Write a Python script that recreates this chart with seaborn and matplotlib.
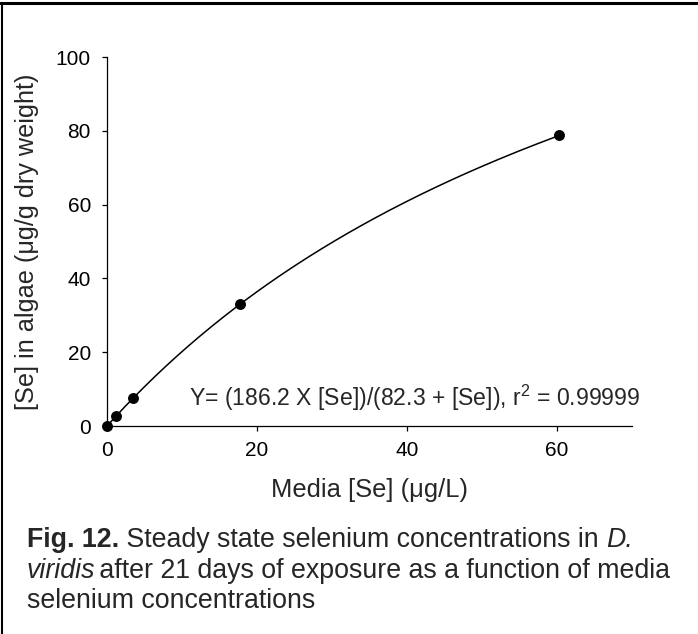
import numpy as np
import pandas as pd
import matplotlib
matplotlib.use("Agg")
import matplotlib.pyplot as plt
from matplotlib.lines import Line2D
import seaborn as sns

# measured points
media_se = [0.0, 1.2, 3.5, 17.8, 60.3]
algae_se = [0.0, 2.7, 7.6, 33.2, 78.8]

# fitted hyperbola parameters (as printed on the chart)
VMAX = 186.2
KM = 82.3
R2 = "0.99999"

x_ticks = [0, 20, 40, 60]
y_ticks = [0, 20, 40, 60, 80, 100]

sns.set_style("ticks")
plt.rcParams["font.family"] = ["Liberation Sans", "DejaVu Sans"]
plt.rcParams["mathtext.fontset"] = "custom"
plt.rcParams["mathtext.rm"] = "Liberation Sans"
plt.rcParams["mathtext.it"] = "Liberation Sans:italic"
plt.rcParams["mathtext.bf"] = "Liberation Sans:bold"

df = pd.DataFrame({"media": media_se, "algae": algae_se})
xs = np.linspace(0, max(media_se), 200)
fit = pd.DataFrame({"media": xs, "algae": VMAX * xs / (KM + xs)})

fig = plt.figure(figsize=(6.98, 6.34), dpi=100)
ax = fig.add_axes([0.1533, 0.328, 0.752, 0.582])

sns.lineplot(x="media", y="algae", data=fit, color="black", linewidth=1.1, ax=ax)
sns.scatterplot(x="media", y="algae", data=df, color="black", s=62,
                edgecolor="black", linewidth=0, zorder=5, clip_on=False, ax=ax)

ax.set_xlim(0, 70)
ax.set_ylim(0, 100)
ax.set_xticks(x_ticks)
ax.set_yticks(y_ticks)
sns.despine(ax=ax)
for s in ["left", "bottom"]:
    ax.spines[s].set_linewidth(0.9)
    ax.spines[s].set_color("black")
ax.tick_params(axis="both", direction="out", length=3.6, width=0.9, colors="black",
               labelsize=15)
ax.tick_params(axis="x", pad=7)
ax.tick_params(axis="y", pad=8)

ax.set_xlabel("Media [Se] (\u03bcg/L)", fontsize=18.4, va="center")
ax.xaxis.set_label_coords(0.501, -0.173)
ax.set_ylabel("[Se] in algae (\u03bcg/g dry weight)", fontsize=18.2, va="center")
ax.yaxis.set_label_coords(-0.152, 0.5)

eq = f"Y= ({VMAX} X [Se])/({KM} + [Se]), r$^2$ = {R2}"
ax.text(10.9, 7.6, eq, fontsize=16.6, va="center", ha="left")

# caption, built from pieces so bold / italic parts sit inline
cap_size = 19.3
cap_x = 0.0387


def chain(prev, s, dx=0, **kw):
    return ax.annotate(s, xy=(1, 0), xycoords=prev, xytext=(dx, 0),
                       textcoords="offset points", va="bottom", ha="left",
                       fontsize=cap_size, annotation_clip=False, **kw)


t = fig.text(cap_x, 1 - 540 / 634, "Fig. 12.", fontsize=cap_size,
             weight="bold", va="center", ha="left")
t = chain(t, " Steady state selenium concentrations in ")
chain(t, "D.", style="italic")

t = fig.text(cap_x, 1 - 571 / 634, "viridis", fontsize=cap_size,
             style="italic", va="center", ha="left")
chain(t, " after 21 days of exposure as a function of media", dx=-2.5)

fig.text(cap_x, 1 - 601 / 634, "selenium concentrations",
         fontsize=cap_size, va="center", ha="left")

# frame lines of the figure panel
fig.add_artist(Line2D([0, 1], [1 - 3 / 634, 1 - 3 / 634], color="black", lw=2.2,
                      transform=fig.transFigure))
fig.add_artist(Line2D([2 / 698, 2 / 698], [0, 1 - 3 / 634], color="black", lw=1.5,
                      transform=fig.transFigure))

fig.savefig("out.png", dpi=100)
